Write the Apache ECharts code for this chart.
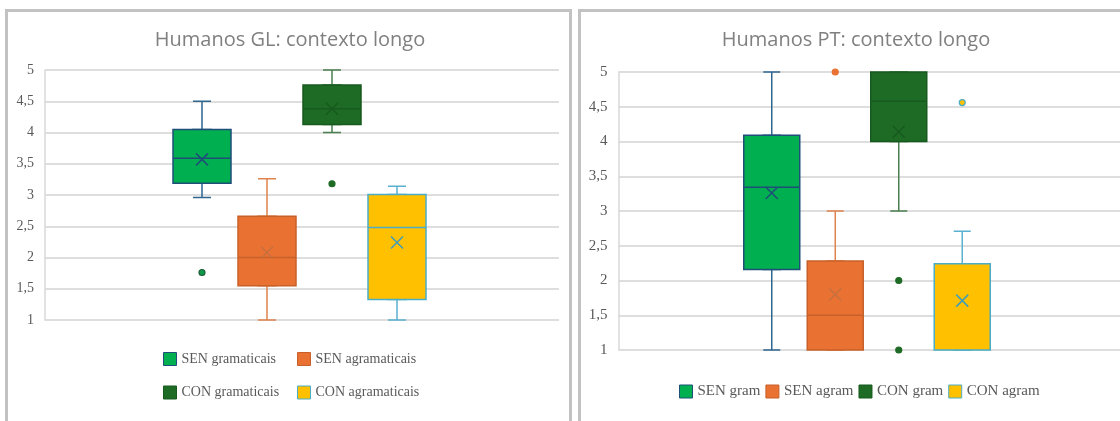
<!DOCTYPE html>
<html>
<head>
<meta charset="utf-8">
<script src="https://cdn.jsdelivr.net/npm/echarts@6/dist/echarts.min.js"></script>
<style>
  html, body { margin: 0; padding: 0; background: #ffffff; overflow: hidden; }
  #chart { width: 1120px; height: 421px; }
</style>
</head>
<body>
<div id="chart"></div>
<script>
// Likert-style ratings (1–5), long context, two groups of human raters.
const yTickLabels = ['1', '1,5', '2', '2,5', '3', '3,5', '4', '4,5', '5'];

// Galician panel
const groupsGL = ['SEN gramaticais', 'SEN agramaticais', 'CON gramaticais', 'CON agramaticais'];
// [min, Q1, median, Q3, max] per group
const statsGL = [
  [2.96, 3.19, 3.59, 4.05, 4.50],
  [1.00, 1.55, 2.00, 2.66, 3.26],
  [4.00, 4.13, 4.38, 4.76, 5.00],
  [1.00, 1.33, 2.48, 3.01, 3.14]
];
const meansGL = [3.57, 2.08, 4.38, 2.24];
const outliersGL = [[1.76], [], [3.18], []];

// Portuguese panel
const groupsPT = ['SEN gram', 'SEN agram', 'CON gram', 'CON agram'];
const statsPT = [
  [1.00, 2.16, 3.34, 4.09, 5.00],
  [1.00, 1.00, 1.50, 2.28, 3.00],
  [3.00, 4.00, 4.58, 5.00, 5.00],
  [1.00, 1.00, 1.00, 2.24, 2.71]
];
const meansPT = [3.26, 1.80, 4.14, 1.71];
const outliersPT = [[], [5.00], [2.00, 1.00], [4.56]];

// Styling shared by both panels (same order as the groups)
const fillColors    = ['#00B050', '#E97132', '#1E6B25', '#FFC000'];
const borderColors  = ['#1F4E79', '#C8602A', '#175A1E', '#4BACC6'];
const whiskerColors = ['#2F6690', '#E0834E', '#4A7F50', '#5AB0D0'];
const meanColors    = ['#1F4E79', '#C8703E', '#175A1E', '#3F9DB8'];
const outlierFill   = ['#0E9A48', '#E97132', '#1E6B25', '#FFC000'];
const outlierBorder = ['#1F5E3A', '#E97132', '#1E6B25', '#4BACC6'];

const serif = 'Liberation Serif';
const crossSymbol = 'path://M0,0L10,10M10,0L0,10';

function yTick(v) {
  return yTickLabels[Math.round((v - 1) / 0.5)];
}

function valueAxis(gridIndex, visible, labelSize) {
  return {
    type: 'value', gridIndex: gridIndex, min: 1, max: 5, interval: 0.5,
    show: visible,
    axisLine: { show: true, lineStyle: { color: '#d9d9d9', width: 1.5 } },
    axisTick: { show: false },
    axisLabel: { formatter: yTick, fontFamily: serif, fontSize: labelSize, color: '#595959', margin: 11 },
    splitLine: { show: visible, lineStyle: { color: '#dedede', width: 2 } }
  };
}

function catAxis(gridIndex, cats) {
  return { type: 'category', gridIndex: gridIndex, data: cats, show: false };
}

// Build the series of one panel: wide boxes, narrow whiskers, and a scatter
// per group holding the mean cross and outlier dots.
function panelSeries(groups, stats, means, outliers, boxAxis, whiskerAxis, yAxis, boxW, capW) {
  const out = [];
  out.push({
    type: 'boxplot', name: 'whiskers', xAxisIndex: whiskerAxis, yAxisIndex: yAxis,
    boxWidth: [capW, capW], z: 2, silent: true,
    data: stats.map((s, i) => ({
      value: s,
      itemStyle: { color: fillColors[i], borderColor: whiskerColors[i], borderWidth: 1.5 }
    }))
  });
  out.push({
    type: 'boxplot', name: 'boxes', xAxisIndex: boxAxis, yAxisIndex: yAxis,
    boxWidth: [boxW, boxW], z: 3, silent: true,
    data: stats.map((s, i) => ({
      value: [s[1], s[1], s[2], s[3], s[3]],
      itemStyle: { color: fillColors[i], borderColor: borderColors[i], borderWidth: 1.5 }
    }))
  });
  groups.forEach((g, i) => {
    const pts = [{
      value: [i, means[i]], symbol: crossSymbol, symbolSize: 12,
      itemStyle: { color: 'none', borderColor: meanColors[i], borderWidth: 1.5, opacity: 1 }
    }];
    outliers[i].forEach(v => pts.push({
      value: [i, v], symbol: 'circle', symbolSize: 6,
      itemStyle: { color: outlierFill[i], borderColor: outlierBorder[i], borderWidth: 1.2, opacity: 1 }
    }));
    out.push({
      type: 'scatter', name: g, xAxisIndex: boxAxis, yAxisIndex: yAxis, z: 5,
      silent: true, itemStyle: { opacity: 1 }, data: pts
    });
  });
  return out;
}

function legendItems(groups, idx) {
  return idx.map(i => ({
    name: groups[i], icon: 'rect',
    itemStyle: { color: fillColors[i], borderColor: borderColors[i], borderWidth: 1, opacity: 1 }
  }));
}

const titleStyle = { fontFamily: 'Open Sans', fontSize: 20, fontWeight: 'normal', color: '#808080' };

const option = {
  animation: false,
  backgroundColor: '#ffffff',
  graphic: [
    { type: 'rect', shape: { x: 6.5, y: 10.5, width: 564, height: 440 },
      style: { fill: 'none', stroke: '#c2c2c2', lineWidth: 3 }, z: 0 },
    { type: 'rect', shape: { x: 579.5, y: 10.5, width: 600, height: 440 },
      style: { fill: 'none', stroke: '#c2c2c2', lineWidth: 3 }, z: 0 }
  ],
  title: [
    { text: 'Humanos GL: contexto longo', left: 285, top: 25, textAlign: 'center', textStyle: titleStyle },
    { text: 'Humanos PT: contexto longo', left: 851, top: 25, textAlign: 'center', textStyle: titleStyle }
  ],
  legend: [
    { orient: 'vertical', left: 163, top: 352, padding: 0, itemWidth: 13, itemHeight: 13, itemGap: 19.5,
      textStyle: { fontFamily: serif, fontSize: 14, color: '#595959' },
      data: legendItems(groupsGL, [0, 2]) },
    { orient: 'vertical', left: 297, top: 352, padding: 0, itemWidth: 13, itemHeight: 13, itemGap: 19.5,
      textStyle: { fontFamily: serif, fontSize: 14, color: '#595959' },
      data: legendItems(groupsGL, [1, 3]) },
    { orient: 'horizontal', left: 679, top: 384, padding: 0, itemWidth: 13, itemHeight: 13, itemGap: 5,
      textStyle: { fontFamily: serif, fontSize: 15, color: '#595959' },
      data: legendItems(groupsPT, [0, 1, 2, 3]) }
  ],
  grid: [
    { left: 45, top: 70, width: 514, height: 250 },
    { left: 169.5, top: 70, width: 260, height: 250 },
    { left: 618.5, top: 72, width: 520, height: 278 },
    { left: 740, top: 72, width: 254, height: 278 }
  ],
  xAxis: [
    catAxis(0, ['']),
    catAxis(1, groupsGL),
    catAxis(1, groupsGL),
    catAxis(2, ['']),
    catAxis(3, groupsPT),
    catAxis(3, groupsPT)
  ],
  yAxis: [
    valueAxis(0, true, 14),
    valueAxis(1, false, 14),
    valueAxis(2, true, 15),
    valueAxis(3, false, 15)
  ],
  series: [].concat(
    panelSeries(groupsGL, statsGL, meansGL, outliersGL, 1, 2, 1, 58, 18),
    panelSeries(groupsPT, statsPT, meansPT, outliersPT, 4, 5, 3, 56, 17)
  )
};

const chart = echarts.init(document.getElementById('chart'), null, { renderer: 'canvas' });
chart.setOption(option);
</script>
</body>
</html>
